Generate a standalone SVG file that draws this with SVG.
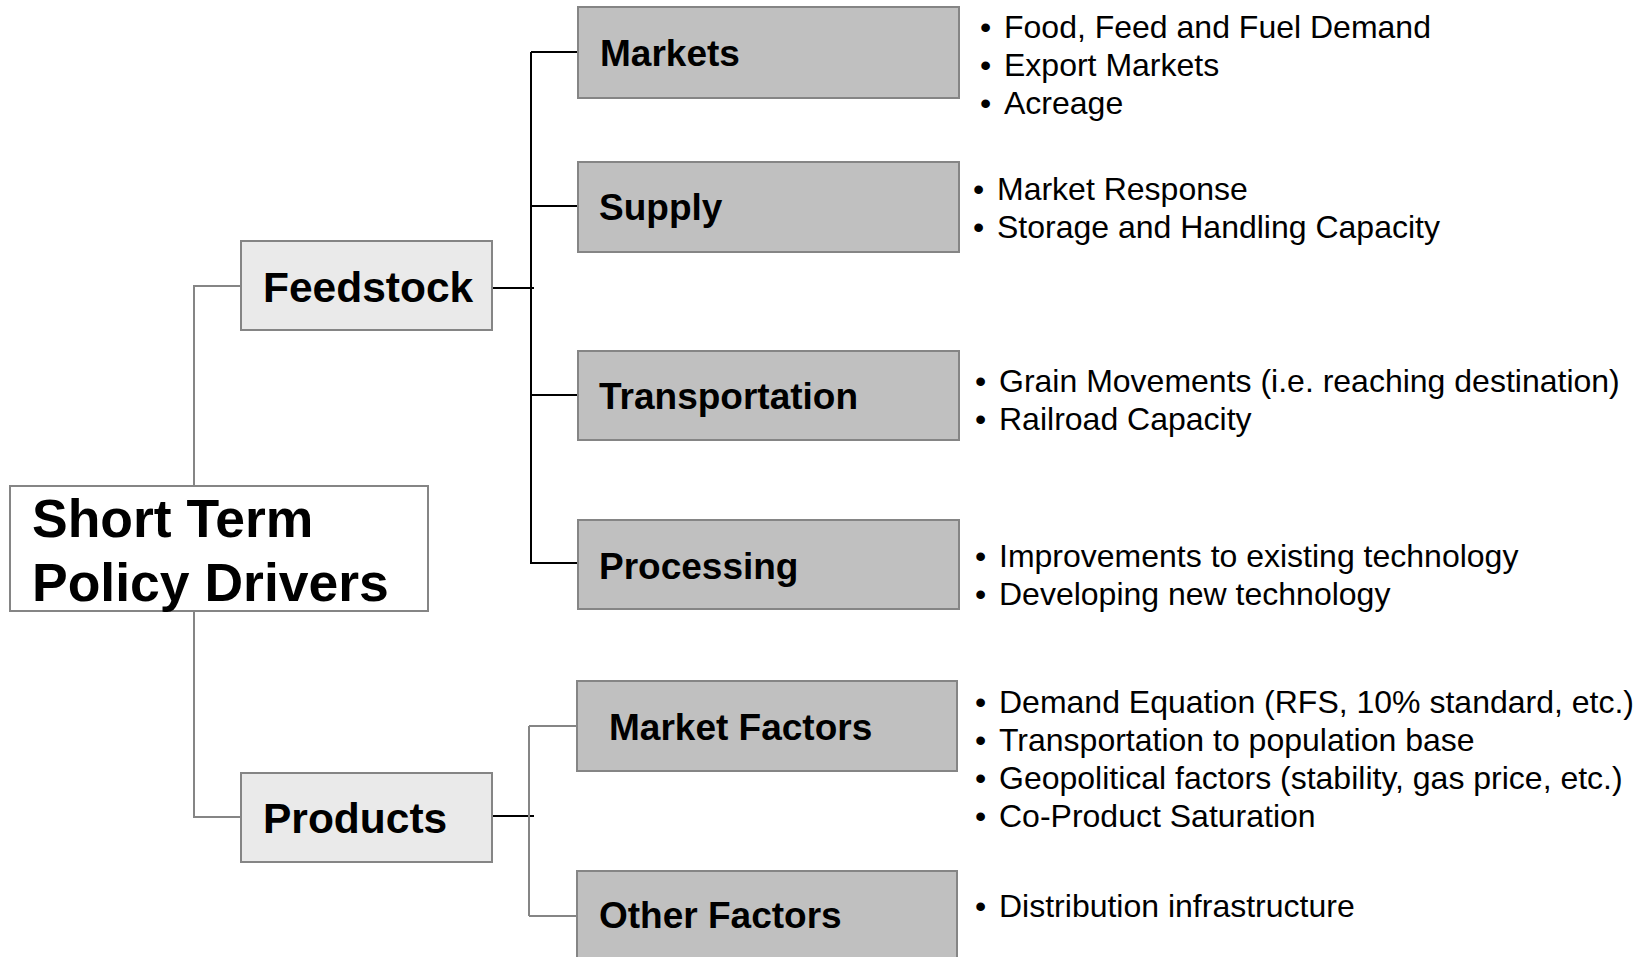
<svg xmlns="http://www.w3.org/2000/svg" width="1640" height="957" viewBox="0 0 1640 957">
<style>
.box{fill:#c0c0c0;stroke:#858585;stroke-width:2}
.mid{fill:#eaeaea;stroke:#858585;stroke-width:2}
.root{fill:#ffffff;stroke:#858585;stroke-width:2}
.lbl{font-family:"Liberation Sans",Arial,sans-serif;font-weight:bold;fill:#000}
.l37{font-size:37px}
.l42{font-size:42.5px}
.l52{font-size:53.5px}
.bul{font-family:"Liberation Sans",Arial,sans-serif;font-size:32px;fill:#000}
.g{fill:none;stroke:#858585;stroke-width:2}
.k{fill:none;stroke:#000;stroke-width:2}
</style>
<rect width="1640" height="957" fill="#fff"/>
<g id="connectors">
<path class="g" d="M194,486 V286 H241"/>
<path class="g" d="M194,611 V817 H241"/>
<path class="k" d="M492,288 H534"/>
<path class="k" d="M531,52 V564"/>
<path class="k" d="M531,52 H578 M531,206 H578 M531,395 H578 M531,563 H578"/>
<path class="k" d="M492,816 H534"/>
<path class="g" d="M529,726 V916 M529,726 H577 M529,916 H577"/>
</g>
<g id="root">
<rect class="root" x="10" y="486" width="418" height="125"/>
<text class="lbl l52" x="32" y="537">Short Term</text>
<text class="lbl l52" x="32" y="601">Policy Drivers</text>
</g>
<g id="feedstock">
<rect class="mid" x="241" y="241" width="251" height="89"/>
<text class="lbl l42" x="263" y="302">Feedstock</text>
</g>
<g id="products">
<rect class="mid" x="241" y="773" width="251" height="89"/>
<text class="lbl l42" x="263" y="833">Products</text>
</g>
<g id="markets">
<rect class="box" x="578" y="7" width="381" height="91"/>
<text class="lbl l37" x="600" y="66">Markets</text>
</g>
<g id="supply">
<rect class="box" x="578" y="162" width="381" height="90"/>
<text class="lbl l37" x="599" y="220">Supply</text>
</g>
<g id="transportation">
<rect class="box" x="578" y="351" width="381" height="89"/>
<text class="lbl l37" x="599" y="409">Transportation</text>
</g>
<g id="processing">
<rect class="box" x="578" y="520" width="381" height="89"/>
<text class="lbl l37" x="599" y="579">Processing</text>
</g>
<g id="market-factors">
<rect class="box" x="577" y="681" width="380" height="90"/>
<text class="lbl l37" x="609" y="740">Market Factors</text>
</g>
<g id="other-factors">
<rect class="box" x="577" y="871" width="380" height="100"/>
<text class="lbl l37" x="599" y="928">Other Factors</text>
</g>
<g id="markets-notes">
<text class="bul" x="980" y="38">•</text><text class="bul" x="1004" y="38">Food, Feed and Fuel Demand</text>
<text class="bul" x="980" y="76">•</text><text class="bul" x="1004" y="76">Export Markets</text>
<text class="bul" x="980" y="114">•</text><text class="bul" x="1004" y="114">Acreage</text>
</g>
<g id="supply-notes">
<text class="bul" x="973" y="200">•</text><text class="bul" x="997" y="200">Market Response</text>
<text class="bul" x="973" y="238">•</text><text class="bul" x="997" y="238">Storage and Handling Capacity</text>
</g>
<g id="transportation-notes">
<text class="bul" x="975" y="392">•</text><text class="bul" x="999" y="392">Grain Movements (i.e. reaching destination)</text>
<text class="bul" x="975" y="430">•</text><text class="bul" x="999" y="430">Railroad Capacity</text>
</g>
<g id="processing-notes">
<text class="bul" x="975" y="567">•</text><text class="bul" x="999" y="567">Improvements to existing technology</text>
<text class="bul" x="975" y="605">•</text><text class="bul" x="999" y="605">Developing new technology</text>
</g>
<g id="market-factors-notes">
<text class="bul" x="975" y="713">•</text><text class="bul" x="999" y="713">Demand Equation (RFS, 10% standard, etc.)</text>
<text class="bul" x="975" y="751">•</text><text class="bul" x="999" y="751">Transportation to population base</text>
<text class="bul" x="975" y="789">•</text><text class="bul" x="999" y="789">Geopolitical factors (stability, gas price, etc.)</text>
<text class="bul" x="975" y="827">•</text><text class="bul" x="999" y="827">Co-Product Saturation</text>
</g>
<g id="other-factors-notes">
<text class="bul" x="975" y="917">•</text><text class="bul" x="999" y="917">Distribution infrastructure</text>
</g>
</svg>
